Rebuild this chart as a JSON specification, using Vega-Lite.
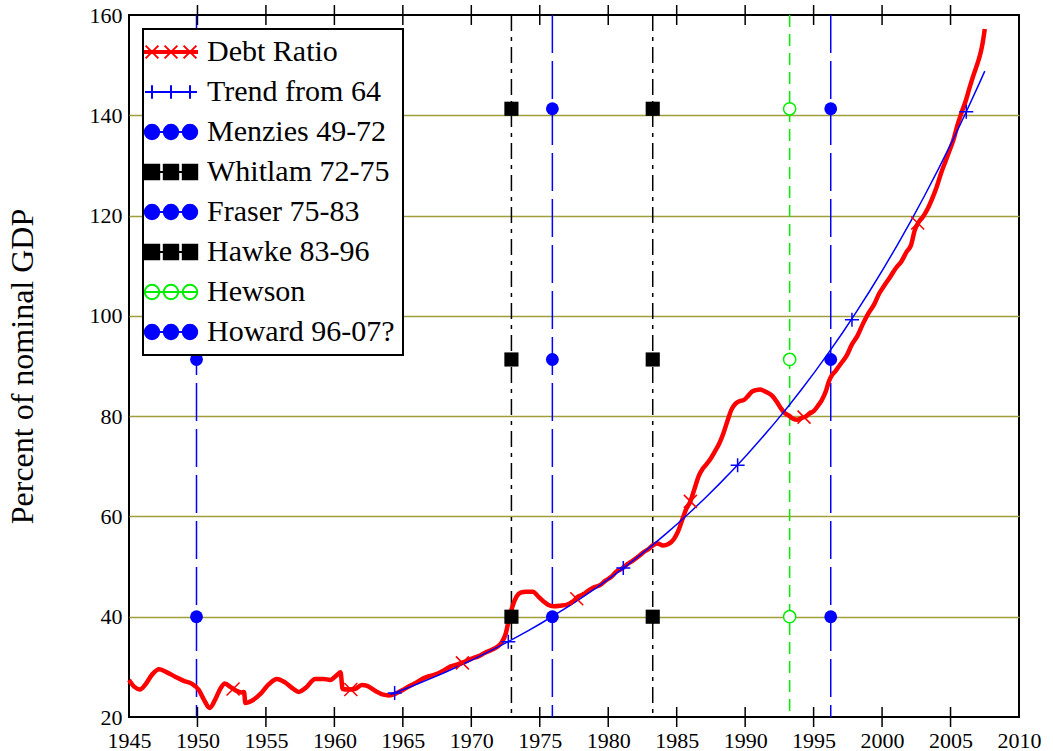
{
  "$schema": "https://vega.github.io/schema/vega-lite/v6.json",
  "width": 890,
  "height": 702,
  "autosize": {"type": "none"},
  "padding": {"left": 129, "top": 15, "right": 34, "bottom": 34},
  "background": "white",
  "config": {
    "font": "Liberation Serif",
    "view": {"stroke": "#000000", "strokeWidth": 2},
    "legend": {"strokeWidth": 2}
  },
  "datasets": {
    "debt": [
      {"year": 1945.0, "value": 27.4}, {"year": 1945.4, "value": 26.0}, {"year": 1945.8, "value": 25.5}, {"year": 1946.2, "value": 26.5},
      {"year": 1946.7, "value": 28.5}, {"year": 1947.2, "value": 29.5}, {"year": 1947.7, "value": 29.0}, {"year": 1948.4, "value": 28.0},
      {"year": 1949.0, "value": 27.2}, {"year": 1949.6, "value": 26.6}, {"year": 1950.1, "value": 25.4}, {"year": 1950.5, "value": 23.3},
      {"year": 1950.9, "value": 21.8}, {"year": 1951.3, "value": 23.5}, {"year": 1951.7, "value": 25.8}, {"year": 1952.0, "value": 26.7},
      {"year": 1952.4, "value": 26.0}, {"year": 1952.8, "value": 25.3}, {"year": 1953.2, "value": 24.9}, {"year": 1953.4, "value": 25.0},
      {"year": 1953.5, "value": 22.8}, {"year": 1954.0, "value": 23.3}, {"year": 1954.6, "value": 24.6}, {"year": 1955.2, "value": 26.5},
      {"year": 1955.8, "value": 27.6}, {"year": 1956.4, "value": 26.9}, {"year": 1957.0, "value": 25.6}, {"year": 1957.4, "value": 25.0},
      {"year": 1957.9, "value": 25.8}, {"year": 1958.6, "value": 27.6}, {"year": 1959.2, "value": 27.6}, {"year": 1959.7, "value": 27.4},
      {"year": 1960.2, "value": 28.4}, {"year": 1960.45, "value": 28.9}, {"year": 1960.6, "value": 25.6}, {"year": 1961.0, "value": 25.5},
      {"year": 1961.5, "value": 25.6}, {"year": 1962.0, "value": 26.4}, {"year": 1962.4, "value": 26.2}, {"year": 1963.0, "value": 25.2},
      {"year": 1963.5, "value": 24.5}, {"year": 1964.0, "value": 24.3}, {"year": 1964.5, "value": 24.7}, {"year": 1965.0, "value": 25.4},
      {"year": 1965.5, "value": 26.2}, {"year": 1966.0, "value": 26.9}, {"year": 1966.5, "value": 27.7}, {"year": 1967.0, "value": 28.2},
      {"year": 1967.5, "value": 28.6}, {"year": 1968.0, "value": 29.3}, {"year": 1968.5, "value": 30.1}, {"year": 1969.0, "value": 30.5},
      {"year": 1969.5, "value": 31.0}, {"year": 1970.0, "value": 31.6}, {"year": 1970.5, "value": 32.1}, {"year": 1971.0, "value": 32.8},
      {"year": 1971.5, "value": 33.4}, {"year": 1971.9, "value": 34.0}, {"year": 1972.2, "value": 34.8}, {"year": 1972.5, "value": 36.5},
      {"year": 1972.75, "value": 39.5}, {"year": 1973.0, "value": 42.0}, {"year": 1973.3, "value": 44.0}, {"year": 1973.6, "value": 44.8},
      {"year": 1974.0, "value": 45.0}, {"year": 1974.5, "value": 45.0}, {"year": 1974.9, "value": 44.0}, {"year": 1975.3, "value": 43.0},
      {"year": 1975.6, "value": 42.4}, {"year": 1976.0, "value": 42.1}, {"year": 1976.5, "value": 42.2}, {"year": 1977.0, "value": 42.4},
      {"year": 1977.4, "value": 43.0}, {"year": 1977.8, "value": 44.0}, {"year": 1978.2, "value": 44.5}, {"year": 1978.6, "value": 45.3},
      {"year": 1979.0, "value": 45.9}, {"year": 1979.4, "value": 46.3}, {"year": 1979.8, "value": 47.2}, {"year": 1980.2, "value": 47.9},
      {"year": 1980.6, "value": 49.0}, {"year": 1981.0, "value": 49.6}, {"year": 1981.4, "value": 50.5}, {"year": 1981.8, "value": 51.2},
      {"year": 1982.2, "value": 52.0}, {"year": 1982.6, "value": 52.9}, {"year": 1983.0, "value": 53.6}, {"year": 1983.3, "value": 54.3},
      {"year": 1983.6, "value": 54.6}, {"year": 1984.0, "value": 54.2}, {"year": 1984.4, "value": 54.5}, {"year": 1984.8, "value": 55.5},
      {"year": 1985.1, "value": 57.0}, {"year": 1985.4, "value": 59.3}, {"year": 1985.7, "value": 61.5}, {"year": 1986.0, "value": 63.0},
      {"year": 1986.3, "value": 65.5}, {"year": 1986.6, "value": 68.0}, {"year": 1986.9, "value": 69.5}, {"year": 1987.2, "value": 70.5},
      {"year": 1987.5, "value": 71.6}, {"year": 1987.8, "value": 73.0}, {"year": 1988.1, "value": 74.5}, {"year": 1988.4, "value": 76.5},
      {"year": 1988.7, "value": 79.0}, {"year": 1989.0, "value": 81.3}, {"year": 1989.3, "value": 82.5}, {"year": 1989.6, "value": 83.0},
      {"year": 1989.9, "value": 83.2}, {"year": 1990.2, "value": 84.0}, {"year": 1990.5, "value": 84.9}, {"year": 1990.8, "value": 85.2},
      {"year": 1991.1, "value": 85.3}, {"year": 1991.4, "value": 85.0}, {"year": 1991.7, "value": 84.6}, {"year": 1992.0, "value": 84.0},
      {"year": 1992.3, "value": 82.9}, {"year": 1992.6, "value": 81.6}, {"year": 1992.9, "value": 80.6}, {"year": 1993.2, "value": 80.1},
      {"year": 1993.5, "value": 79.5}, {"year": 1993.8, "value": 79.3}, {"year": 1994.1, "value": 79.6}, {"year": 1994.4, "value": 79.9},
      {"year": 1994.7, "value": 80.5}, {"year": 1995.0, "value": 81.0}, {"year": 1995.3, "value": 82.0}, {"year": 1995.6, "value": 83.2},
      {"year": 1995.9, "value": 85.0}, {"year": 1996.1, "value": 86.8}, {"year": 1996.3, "value": 88.0}, {"year": 1996.6, "value": 89.0},
      {"year": 1997.0, "value": 90.5}, {"year": 1997.4, "value": 92.0}, {"year": 1997.8, "value": 94.3}, {"year": 1998.2, "value": 96.0},
      {"year": 1998.6, "value": 98.4}, {"year": 1999.0, "value": 100.5}, {"year": 1999.4, "value": 102.2}, {"year": 1999.8, "value": 104.5},
      {"year": 2000.2, "value": 106.2}, {"year": 2000.6, "value": 107.8}, {"year": 2001.0, "value": 109.5}, {"year": 2001.4, "value": 110.8},
      {"year": 2001.8, "value": 112.8}, {"year": 2002.1, "value": 114.0}, {"year": 2002.4, "value": 117.2}, {"year": 2002.7, "value": 118.8},
      {"year": 2003.0, "value": 119.8}, {"year": 2003.3, "value": 121.2}, {"year": 2003.6, "value": 123.0}, {"year": 2004.0, "value": 125.8},
      {"year": 2004.3, "value": 128.4}, {"year": 2004.6, "value": 130.6}, {"year": 2004.9, "value": 132.8}, {"year": 2005.2, "value": 135.0},
      {"year": 2005.5, "value": 138.0}, {"year": 2005.8, "value": 140.5}, {"year": 2006.1, "value": 142.8}, {"year": 2006.4, "value": 145.6},
      {"year": 2006.7, "value": 148.2}, {"year": 2007.0, "value": 150.6}, {"year": 2007.2, "value": 152.5}, {"year": 2007.35, "value": 154.5},
      {"year": 2007.5, "value": 157.2}
    ],
    "trend": [
      {"year": 1964.1, "value": 24.5}, {"year": 1965.1, "value": 25.54}, {"year": 1966.1, "value": 26.62}, {"year": 1967.1, "value": 27.75},
      {"year": 1968.1, "value": 28.93}, {"year": 1969.1, "value": 30.16}, {"year": 1970.1, "value": 31.44}, {"year": 1971.1, "value": 32.78},
      {"year": 1972.1, "value": 34.17}, {"year": 1973.1, "value": 35.62}, {"year": 1974.1, "value": 37.13}, {"year": 1975.1, "value": 38.7},
      {"year": 1976.1, "value": 40.35}, {"year": 1977.1, "value": 42.06}, {"year": 1978.1, "value": 43.85}, {"year": 1979.1, "value": 45.71},
      {"year": 1980.1, "value": 47.65}, {"year": 1981.1, "value": 49.67}, {"year": 1982.1, "value": 51.78}, {"year": 1983.1, "value": 53.97},
      {"year": 1984.1, "value": 56.27}, {"year": 1985.1, "value": 58.65}, {"year": 1986.1, "value": 61.14}, {"year": 1987.1, "value": 63.74},
      {"year": 1988.1, "value": 66.44}, {"year": 1989.1, "value": 69.26}, {"year": 1990.1, "value": 72.2}, {"year": 1991.1, "value": 75.27},
      {"year": 1992.1, "value": 78.46}, {"year": 1993.1, "value": 81.79}, {"year": 1994.1, "value": 85.27}, {"year": 1995.1, "value": 88.88},
      {"year": 1996.1, "value": 92.66}, {"year": 1997.1, "value": 96.59}, {"year": 1998.1, "value": 100.69}, {"year": 1999.1, "value": 104.96},
      {"year": 2000.1, "value": 109.42}, {"year": 2001.1, "value": 114.06}, {"year": 2002.1, "value": 118.9}, {"year": 2003.1, "value": 123.95},
      {"year": 2004.1, "value": 129.21}, {"year": 2005.1, "value": 134.69}, {"year": 2006.1, "value": 140.41}, {"year": 2007.1, "value": 146.37},
      {"year": 2007.5, "value": 148.8}
    ],
    "xmarks": [
      {"year": 1952.6, "value": 25.6}, {"year": 1961.2, "value": 25.5}, {"year": 1969.35, "value": 30.8}, {"year": 1977.7, "value": 43.6},
      {"year": 1986.0, "value": 63.0}, {"year": 1994.3, "value": 79.8}, {"year": 2002.6, "value": 118.5}
    ],
    "pmarks": [
      {"year": 1964.4, "value": 24.8}, {"year": 1972.7, "value": 35.0}, {"year": 1981.1, "value": 49.7}, {"year": 1989.45, "value": 70.2},
      {"year": 1997.8, "value": 99.2}, {"year": 2006.15, "value": 140.7}
    ],
    "tickyears": [
      {"year": 1950}, {"year": 1955}, {"year": 1960}, {"year": 1965}, {"year": 1970}, {"year": 1975},
      {"year": 1980}, {"year": 1985}, {"year": 1990}, {"year": 1995}, {"year": 2000}, {"year": 2005}
    ],
    "govs": [
      {"leader": "Menzies", "year": 1949.93, "kind": "blue"},
      {"leader": "Whitlam", "year": 1972.93, "kind": "black"},
      {"leader": "Fraser", "year": 1975.92, "kind": "blue"},
      {"leader": "Hawke", "year": 1983.25, "kind": "black"},
      {"leader": "Hewson", "year": 1993.25, "kind": "green"},
      {"leader": "Howard", "year": 1996.25, "kind": "blue"}
    ],
    "govmarks": [
      {"leader": "Menzies", "year": 1949.93, "value": 40, "kind": "blue"},
      {"leader": "Menzies", "year": 1949.93, "value": 91.3, "kind": "blue"},
      {"leader": "Menzies", "year": 1949.93, "value": 141.3, "kind": "blue"},
      {"leader": "Whitlam", "year": 1972.93, "value": 40, "kind": "black"},
      {"leader": "Whitlam", "year": 1972.93, "value": 91.3, "kind": "black"},
      {"leader": "Whitlam", "year": 1972.93, "value": 141.3, "kind": "black"},
      {"leader": "Fraser", "year": 1975.92, "value": 40, "kind": "blue"},
      {"leader": "Fraser", "year": 1975.92, "value": 91.3, "kind": "blue"},
      {"leader": "Fraser", "year": 1975.92, "value": 141.3, "kind": "blue"},
      {"leader": "Hawke", "year": 1983.25, "value": 40, "kind": "black"},
      {"leader": "Hawke", "year": 1983.25, "value": 91.3, "kind": "black"},
      {"leader": "Hawke", "year": 1983.25, "value": 141.3, "kind": "black"},
      {"leader": "Hewson", "year": 1993.25, "value": 40, "kind": "green"},
      {"leader": "Hewson", "year": 1993.25, "value": 91.3, "kind": "green"},
      {"leader": "Hewson", "year": 1993.25, "value": 141.3, "kind": "green"},
      {"leader": "Howard", "year": 1996.25, "value": 40, "kind": "blue"},
      {"leader": "Howard", "year": 1996.25, "value": 91.3, "kind": "blue"},
      {"leader": "Howard", "year": 1996.25, "value": 141.3, "kind": "blue"}
    ],
    "legendrows": [
      {"series": "Debt Ratio"}, {"series": "Trend from 64"}, {"series": "Menzies 49-72"}, {"series": "Whitlam 72-75"},
      {"series": "Fraser 75-83"}, {"series": "Hawke 83-96"}, {"series": "Hewson"}, {"series": "Howard 96-07?"}
    ]
  },
  "resolve": {"axis": {"x": "independent", "y": "independent"}},
  "layer": [
    {
      "data": {"name": "govs"},
      "transform": [{"filter": "datum.kind == 'blue'"}],
      "mark": {"type": "rule", "stroke": "#0000ff", "strokeWidth": 1.5, "strokeDash": [38, 8]},
      "encoding": {
        "x": {
          "field": "year", "type": "quantitative", "scale": {"domain": [1945, 2010], "nice": false, "zero": false},
          "axis": {
            "orient": "bottom", "values": [1945, 1950, 1955, 1960, 1965, 1970, 1975, 1980, 1985, 1990, 1995, 2000, 2005, 2010],
            "format": "d", "title": null, "domain": false, "ticks": false, "grid": false,
            "labelFont": "Liberation Serif", "labelFontSize": 22, "labelColor": "#000000",
            "labelPadding": 13, "labelFlush": false, "labelOverlap": false
          }
        }
      }
    },
    {
      "data": {"name": "govs"},
      "transform": [{"filter": "datum.kind == 'black'"}],
      "mark": {"type": "rule", "stroke": "#000000", "strokeWidth": 1.5, "strokeDash": [16, 6, 4, 6]},
      "encoding": {
        "x": {"field": "year", "type": "quantitative", "axis": null}
      }
    },
    {
      "data": {"name": "govs"},
      "transform": [{"filter": "datum.kind == 'green'"}],
      "mark": {"type": "rule", "stroke": "#00ee00", "strokeWidth": 1.5, "strokeDash": [12, 7]},
      "encoding": {
        "x": {"field": "year", "type": "quantitative", "axis": null}
      }
    },
    {
      "data": {"name": "debt"},
      "mark": {"type": "line", "stroke": "#ff0000", "strokeWidth": 4.5, "interpolate": "monotone"},
      "encoding": {
        "x": {"field": "year", "type": "quantitative", "axis": null},
        "y": {
          "field": "value", "type": "quantitative",
          "scale": {"domain": [20, 160], "nice": false, "zero": false},
          "axis": {
            "values": [20, 40, 60, 80, 100, 120, 140, 160],
            "title": "Percent of nominal GDP", "titleFont": "Liberation Serif", "titleFontSize": 32,
            "titleFontWeight": "normal", "titleColor": "#000000", "titlePadding": 50,
            "domain": false, "ticks": false,
            "labelFont": "Liberation Serif", "labelFontSize": 22, "labelColor": "#000000", "labelPadding": 7,
            "labelFlush": false, "labelOverlap": false,
            "grid": true, "gridColor": "#a09e3a", "gridWidth": 1.5,
            "gridOpacity": {"condition": {"test": "datum.value == 20 || datum.value == 160", "value": 0}, "value": 1}
          }
        }
      }
    },
    {
      "data": {"name": "trend"},
      "mark": {"type": "line", "stroke": "#0000ff", "strokeWidth": 1.5},
      "encoding": {
        "x": {"field": "year", "type": "quantitative", "axis": null},
        "y": {"field": "value", "type": "quantitative", "axis": null}
      }
    },
    {
      "data": {"name": "xmarks"},
      "mark": {"type": "point", "shape": "M-1,-1L1,1M-1,1L1,-1", "filled": false, "stroke": "#ff0000", "strokeWidth": 1.5, "size": 169, "opacity": 1},
      "encoding": {
        "x": {"field": "year", "type": "quantitative", "axis": null},
        "y": {"field": "value", "type": "quantitative", "axis": null}
      }
    },
    {
      "data": {"name": "pmarks"},
      "mark": {"type": "point", "shape": "M-1,0H1M0,-1V1", "filled": false, "stroke": "#0000ff", "strokeWidth": 1.5, "size": 196, "opacity": 1},
      "encoding": {
        "x": {"field": "year", "type": "quantitative", "axis": null},
        "y": {"field": "value", "type": "quantitative", "axis": null}
      }
    },
    {
      "data": {"name": "govmarks"},
      "transform": [{"filter": "datum.kind == 'blue'"}],
      "mark": {"type": "point", "shape": "circle", "filled": true, "fill": "#0000ff", "size": 165, "opacity": 1},
      "encoding": {
        "x": {"field": "year", "type": "quantitative", "axis": null},
        "y": {"field": "value", "type": "quantitative", "axis": null}
      }
    },
    {
      "data": {"name": "govmarks"},
      "transform": [{"filter": "datum.kind == 'black'"}],
      "mark": {"type": "point", "shape": "square", "filled": true, "fill": "#000000", "size": 200, "opacity": 1},
      "encoding": {
        "x": {"field": "year", "type": "quantitative", "axis": null},
        "y": {"field": "value", "type": "quantitative", "axis": null}
      }
    },
    {
      "data": {"name": "govmarks"},
      "transform": [{"filter": "datum.kind == 'green'"}],
      "mark": {"type": "point", "shape": "circle", "filled": false, "fill": "#ffffff", "stroke": "#00ee00", "strokeWidth": 1.5, "size": 150, "opacity": 1},
      "encoding": {
        "x": {"field": "year", "type": "quantitative", "axis": null},
        "y": {"field": "value", "type": "quantitative", "axis": null}
      }
    },
    {
      "data": {"name": "tickyears"},
      "mark": {"type": "tick", "orient": "vertical", "color": "#000000", "size": 20, "thickness": 1.5, "opacity": 1},
      "encoding": {
        "x": {"field": "year", "type": "quantitative", "axis": null},
        "y": {"datum": 20, "type": "quantitative", "axis": null}
      }
    },
    {
      "data": {"name": "tickyears"},
      "mark": {"type": "tick", "orient": "vertical", "color": "#000000", "size": 20, "thickness": 1.5, "opacity": 1},
      "encoding": {
        "x": {"field": "year", "type": "quantitative", "axis": null},
        "y": {"datum": 160, "type": "quantitative", "axis": null}
      }
    },
    {
      "data": {"name": "legendrows"},
      "mark": {"type": "point", "filled": true, "opacity": 0},
      "encoding": {
        "fill": {
          "field": "series", "type": "nominal",
          "scale": {
            "domain": ["Debt Ratio", "Trend from 64", "Menzies 49-72", "Whitlam 72-75", "Fraser 75-83", "Hawke 83-96", "Hewson", "Howard 96-07?"],
            "range": ["#ff0000", "transparent", "#0000ff", "#000000", "#0000ff", "#000000", "transparent", "#0000ff"]
          },
          "legend": {
            "title": null, "orient": "top-left", "offset": 14, "padding": 8,
            "strokeColor": "#000000", "fillColor": "#ffffff", "cornerRadius": 0,
            "symbolSize": 256, "symbolStrokeWidth": 2, "symbolOffset": 5, "symbolOpacity": 1,
            "labelOffset": 21, "labelFont": "Liberation Serif", "labelFontSize": 30, "labelColor": "#000000",
            "labelLimit": 400, "rowPadding": 10
          }
        },
        "stroke": {
          "field": "series", "type": "nominal",
          "scale": {
            "domain": ["Debt Ratio", "Trend from 64", "Menzies 49-72", "Whitlam 72-75", "Fraser 75-83", "Hawke 83-96", "Hewson", "Howard 96-07?"],
            "range": ["#ff0000", "#0000ff", "#0000ff", "#000000", "#0000ff", "#000000", "#00ee00", "#0000ff"]
          },
          "legend": {
            "title": null, "orient": "top-left", "offset": 14, "padding": 8,
            "strokeColor": "#000000", "fillColor": "#ffffff", "cornerRadius": 0,
            "symbolSize": 256, "symbolStrokeWidth": 2, "symbolOffset": 5, "symbolOpacity": 1,
            "labelOffset": 21, "labelFont": "Liberation Serif", "labelFontSize": 30, "labelColor": "#000000",
            "labelLimit": 400, "rowPadding": 10
          }
        },
        "shape": {
          "field": "series", "type": "nominal",
          "scale": {
            "domain": ["Debt Ratio", "Trend from 64", "Menzies 49-72", "Whitlam 72-75", "Fraser 75-83", "Hawke 83-96", "Hewson", "Howard 96-07?"],
            "range": [
              "M-3.25,-0.12H3.25V0.12H-3.25ZM-3.175,-0.8L-1.575,0.8M-3.175,0.8L-1.575,-0.8M-0.8,-0.8L0.8,0.8M-0.8,0.8L0.8,-0.8M1.575,-0.8L3.175,0.8M1.575,0.8L3.175,-0.8",
              "M-3.25,0H3.25M-2.375,-0.85V0.85M0,-0.85V0.85M2.375,-0.85V0.85",
              "M-3.25,0H3.25M-3.275,0A0.9,0.9,0,1,0,-1.475,0A0.9,0.9,0,1,0,-3.275,0ZM-0.9,0A0.9,0.9,0,1,0,0.9,0A0.9,0.9,0,1,0,-0.9,0ZM1.475,0A0.9,0.9,0,1,0,3.275,0A0.9,0.9,0,1,0,1.475,0Z",
              "M-3.25,0H3.25M-3.275,-0.9H-1.475V0.9H-3.275ZM-0.9,-0.9H0.9V0.9H-0.9ZM1.475,-0.9H3.275V0.9H1.475Z",
              "M-3.25,0H3.25M-3.275,0A0.9,0.9,0,1,0,-1.475,0A0.9,0.9,0,1,0,-3.275,0ZM-0.9,0A0.9,0.9,0,1,0,0.9,0A0.9,0.9,0,1,0,-0.9,0ZM1.475,0A0.9,0.9,0,1,0,3.275,0A0.9,0.9,0,1,0,1.475,0Z",
              "M-3.25,0H3.25M-3.275,-0.9H-1.475V0.9H-3.275ZM-0.9,-0.9H0.9V0.9H-0.9ZM1.475,-0.9H3.275V0.9H1.475Z",
              "M-3.25,0H3.25M-3.275,0A0.9,0.9,0,1,0,-1.475,0A0.9,0.9,0,1,0,-3.275,0ZM-0.9,0A0.9,0.9,0,1,0,0.9,0A0.9,0.9,0,1,0,-0.9,0ZM1.475,0A0.9,0.9,0,1,0,3.275,0A0.9,0.9,0,1,0,1.475,0Z",
              "M-3.25,0H3.25M-3.275,0A0.9,0.9,0,1,0,-1.475,0A0.9,0.9,0,1,0,-3.275,0ZM-0.9,0A0.9,0.9,0,1,0,0.9,0A0.9,0.9,0,1,0,-0.9,0ZM1.475,0A0.9,0.9,0,1,0,3.275,0A0.9,0.9,0,1,0,1.475,0Z"
            ]
          },
          "legend": {
            "title": null, "orient": "top-left", "offset": 14, "padding": 8,
            "strokeColor": "#000000", "fillColor": "#ffffff", "cornerRadius": 0,
            "symbolSize": 256, "symbolStrokeWidth": 2, "symbolOffset": 5, "symbolOpacity": 1,
            "labelOffset": 21, "labelFont": "Liberation Serif", "labelFontSize": 30, "labelColor": "#000000",
            "labelLimit": 400, "rowPadding": 10
          }
        }
      }
    }
  ]
}
